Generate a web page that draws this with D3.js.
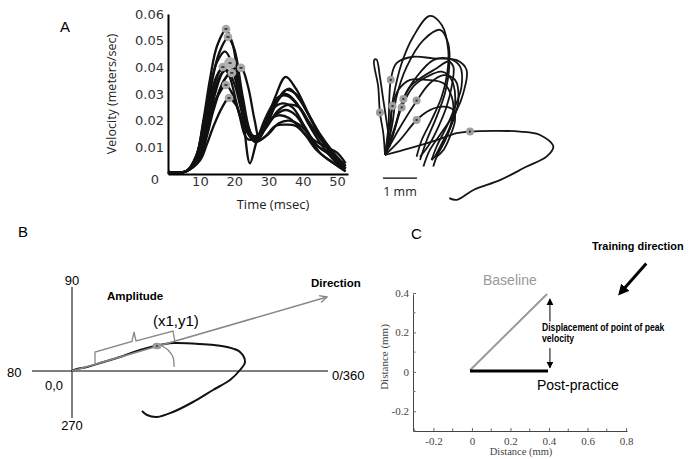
<!DOCTYPE html>
<html><head><meta charset="utf-8">
<script src="https://cdn.jsdelivr.net/npm/d3@7"></script>
<style>body{margin:0;background:#fff}svg{display:block}</style>
</head><body><svg id="c" width="691" height="459"></svg>
<script>
// ---------- Panel A: velocity profiles ----------
const timeTicks = [10, 20, 30, 40, 50];
const velTicks = [0, 0.01, 0.02, 0.03, 0.04, 0.05, 0.06];
const vel1 = [[0.7,0.0008],[6,0.001],[9,0.007],[11,0.02],[13,0.036],[15,0.048],[17.6,0.054],[19.5,0.049],[21.5,0.033],[24,0.016],[26.5,0.013],[29,0.019],[32,0.027],[35,0.030],[38,0.027],[42,0.018],[46,0.01],[50,0.004],[52.5,0.002]];
const vel2 = [[0.7,0.0008],[6,0.001],[9,0.006],[11,0.017],[13,0.031],[15.5,0.045],[18.2,0.051],[20,0.047],[22.5,0.029],[25,0.015],[27,0.013],[30,0.02],[33,0.028],[36,0.032],[39,0.028],[43,0.019],[47,0.01],[51,0.004],[52.5,0.002]];
const vel3 = [[0.7,0.0008],[6,0.001],[9,0.007],[11,0.018],[13,0.029],[15,0.037],[16.7,0.040],[18.5,0.037],[21,0.025],[24,0.013],[27,0.014],[30,0.02],[33,0.022],[36,0.021],[40,0.016],[44,0.009],[48,0.005],[52.5,0.001]];
const vel4 = [[0.7,0.0008],[6,0.001],[9.5,0.006],[12,0.017],[14,0.028],[16.5,0.038],[18.8,0.0416],[20.5,0.037],[22.5,0.022],[24.6,0.004],[26.5,0.012],[29.5,0.022],[33,0.029],[36,0.029],[39.5,0.024],[43,0.017],[47,0.01],[50,0.006],[52.5,0.003]];
const vel5 = [[0.7,0.0008],[6,0.001],[10,0.006],[12,0.014],[14,0.024],[17,0.035],[19.3,0.038],[21.5,0.032],[24,0.018],[26.5,0.012],[29,0.018],[32,0.029],[35,0.0364],[38,0.032],[41.5,0.023],[45,0.014],[49,0.006],[52.5,0.002]];
const vel6 = [[0.7,0.0008],[6,0.001],[10,0.006],[12,0.015],[14,0.025],[17,0.035],[19.5,0.039],[22,0.0398],[24,0.033],[26,0.02],[27.5,0.013],[30,0.015],[33,0.019],[36,0.02],[39.5,0.018],[43,0.013],[47,0.01],[50,0.008],[52.5,0.004]];
const vel7 = [[0.7,0.0008],[6,0.001],[10,0.008],[12,0.017],[14,0.026],[16,0.031],[17.6,0.0334],[19.5,0.03],[22.5,0.019],[25.5,0.013],[28.5,0.016],[32,0.022],[35,0.024],[38,0.022],[41.5,0.015],[45,0.008],[49,0.004],[52.5,0.001]];
const vel8 = [[0.7,0.0008],[6,0.001],[10,0.005],[12,0.011],[14,0.018],[16.5,0.025],[18.5,0.0285],[20.5,0.026],[23.5,0.017],[26.5,0.014],[29.5,0.018],[33,0.024],[36,0.026],[39,0.025],[42,0.019],[46,0.012],[50,0.006],[52.5,0.003]];
const vel9 = [[0.7,0.0008],[6,0.001],[9,0.007],[11,0.019],[13,0.033],[15,0.042],[17.3,0.046],[19.5,0.041],[22,0.025],[25,0.014],[28,0.016],[31,0.024],[34,0.0265],[37,0.025],[40.5,0.018],[44,0.011],[48,0.007],[52.5,0.002]];
const vel10 = [[0.7,0.0008],[6,0.001],[9.5,0.006],[11.5,0.016],[13.5,0.028],[16,0.037],[18,0.039],[20,0.034],[23,0.02],[26,0.012],[29,0.014],[32,0.018],[35,0.0185],[38,0.018],[42,0.013],[46,0.009],[49,0.007],[52.5,0.002]];
const vel11 = [[0.7,0.0008],[6,0.001],[9.5,0.007],[11.5,0.018],[13.5,0.03],[16,0.039],[18.5,0.041],[20.5,0.035],[23,0.021],[26,0.013],[29,0.017],[32,0.026],[35,0.0315],[38,0.03],[41,0.024],[45,0.015],[49,0.008],[52.5,0.003]];
const velSeries = [vel1, vel2, vel3, vel4, vel5, vel6, vel7, vel8, vel9, vel10, vel11];
const velPeaks = [[17.6,0.0544],[18.2,0.0514],[16.7,0.0401],[19.3,0.0379],[22.0,0.0398],[17.6,0.0334],[18.5,0.0285]];
const velPeakBig = [[18.8,0.0416]];

// ---------- Panel A: trajectories (mm) ----------
const traj1 = [[0,0],[0.13,0.83],[0.25,1.72],[0.49,2.70],[0.83,3.48],[1.32,4.09],[1.67,3.82],[1.86,3.09],[1.83,2.40],[1.67,1.72],[1.37,1.03],[1.08,0.44],[0.93,-0.05]];
const traj2 = [[0,0],[0.20,0.83],[0.34,1.72],[0.64,2.60],[1.13,3.38],[1.62,3.68],[1.86,3.28],[1.89,2.60],[1.76,1.81],[1.52,1.13],[1.23,0.44],[1.03,-0.15]];
const traj3 = [[0,0],[0.10,0.83],[0.17,2.21],[0.34,2.70],[0.83,2.89],[1.42,2.84],[2.11,2.79],[2.40,2.50],[2.30,1.81],[2.11,1.32],[1.72,0.74],[1.32,0.15],[1.13,-0.34]];
const traj4 = [[0,0],[0.25,0.64],[0.54,1.65],[0.93,2.30],[1.42,2.79],[1.86,2.84],[2.21,2.60],[2.25,2.01],[2.06,1.42],[1.81,0.83],[1.52,0.25],[1.37,-0.15]];
const traj5 = [[0,0],[0.34,0.64],[0.93,1.59],[1.32,2.11],[1.72,2.35],[2.06,2.21],[2.16,1.62],[2.01,1.03],[1.76,0.44],[1.52,-0.05],[1.42,-0.34]];
const traj6 = [[0,0],[0.25,0.64],[0.49,1.40],[0.83,2.01],[1.23,2.30],[1.67,2.45],[1.96,2.21],[2.06,1.42],[1.91,0.83],[1.67,0.34],[1.47,-0.05]];
const traj7 = [[0,0],[0.15,0.64],[0.22,1.44],[0.39,1.91],[0.74,2.21],[1.23,2.21],[1.72,2.11],[1.96,1.72],[2.01,1.23],[1.86,0.64],[1.62,0.15],[1.37,-0.15]];
const traj8 = [[0,0],[0.44,0.44],[0.93,1.03],[1.32,1.32],[1.72,1.42],[2.01,1.32],[2.06,1.03],[1.91,0.54],[1.72,0.15],[1.52,-0.05]];
const traj9 = [[0,0],[-0.05,0.64],[-0.15,1.25],[-0.20,2.01],[-0.32,2.79],[-0.25,2.81],[-0.15,2.30],[-0.05,1.62],[0.07,0.83],[0.15,0.25]];
const traj10 = [[0,0],[0.29,0.83],[0.54,1.65],[0.74,2.01],[1.03,2.25],[1.52,2.55],[1.86,2.75],[2.01,2.60],[1.96,2.01],[1.81,1.42],[1.57,0.83],[1.32,0.34],[1.03,-0.05]];
const traj11 = [[0,0],[0.74,0.20],[1.52,0.44],[2.11,0.64],[2.50,0.69],[3.19,0.71],[3.97,0.69],[4.56,0.59],[4.95,0.25],[4.75,-0.05],[4.17,-0.34],[3.38,-0.74],[2.60,-1.03],[2.11,-1.32],[1.89,-1.27]];
const trajSeries = [traj1, traj2, traj3, traj4, traj5, traj6, traj7, traj8, traj9, traj10, traj11];
const trajPeaks = [[0.17,2.21],[-0.15,1.25],[0.22,1.44],[0.49,1.40],[0.54,1.65],[0.93,1.60],[0.93,1.03],[2.50,0.69]];
const scaleBarMm = 1;

// ---------- Panel B: definition sketch ----------
const bTrajectory = [[0,0],[0.5,0.2],[1.5,0.4],[2.8,0.8],[4.8,1.4],[6.8,2.1],[8.5,2.55],[10.1,2.8],[12.8,2.7],[15.5,2.4],[16.8,1.9],[17.3,0.9],[16.8,0.1],[15.8,-0.9],[14.1,-1.9],[12.1,-3.1],[10.1,-4.1],[8.5,-4.6],[7.5,-4.4],[7.0,-4.0]];
const bDirection = [[0,0],[25.5,7.4]];
const bPeak = [8.5,2.5];
const bBracket = [[2.3,0.7],[2.3,1.9],[6.0,2.95],[6.2,3.9],[6.4,3.0],[10.1,4.0],[10.3,2.9]];
const bAngleArc = [[9.0,2.5],[9.6,2.1],[10.1,1.4],[10.2,0.4]];
const bAxisLabels = ["90", "80", "270", "0/360", "0,0"];

// ---------- Panel C: displacement ----------
const cTicks = [-0.2, 0, 0.2, 0.4, 0.6, 0.8];
const cMinorX = [-0.3, -0.1, 0.1, 0.3, 0.5, 0.7];
const cYTicks = [-0.2, 0, 0.2, 0.4];
const cMinorY = [-0.3, -0.1, 0.1, 0.3];
const baseline = [[-0.01,0.008],[0.39,0.395]];
const postPractice = [[-0.01,0.005],[0.395,0.005]];
const displacementX = 0.405;
const trainingArrow = [[0.905,0.55],[0.77,0.40]];

const svg = d3.select("#c");
svg.append("rect").attr("width",691).attr("height",459).attr("fill","#fff");
const defs = svg.append("defs");
defs.append("marker").attr("id","chev").attr("viewBox","0 0 10 10").attr("refX",9).attr("refY",5)
  .attr("markerWidth",9).attr("markerHeight",9).attr("markerUnits","userSpaceOnUse").attr("orient","auto")
  .append("path").attr("d","M1,1 L9,5 L1,9").attr("fill","none").attr("stroke","#888").attr("stroke-width",1.5);
defs.append("marker").attr("id","tri").attr("viewBox","0 0 10 10").attr("refX",9).attr("refY",5)
  .attr("markerWidth",7).attr("markerHeight",7).attr("markerUnits","userSpaceOnUse").attr("orient","auto")
  .append("path").attr("d","M0,0 L10,5 L0,10 Z").attr("fill","#000");
defs.append("marker").attr("id","big").attr("viewBox","0 0 10 10").attr("refX",7).attr("refY",5)
  .attr("markerWidth",11).attr("markerHeight",11).attr("markerUnits","userSpaceOnUse").attr("orient","auto")
  .append("path").attr("d","M0,0 L10,5 L0,10 Z").attr("fill","#000");

const txt = (x,y,s,o={}) => {
  const t = svg.append("text").attr("x",x).attr("y",y).text(s)
    .attr("font-family", o.ff || "Liberation Sans, Arial, sans-serif")
    .attr("font-size", o.fs || 13).attr("fill", o.fill || "#000")
    .attr("text-anchor", o.anchor || "start");
  if (o.fw) t.attr("font-weight", o.fw);
  return t;
};
// horizontally squeezed text (narrow bold captions)
const squeezed = (x,y,s,fs,sx) => svg.append("text")
  .attr("transform",`translate(${x},${y}) scale(${sx},1)`).text(s)
  .attr("font-family","Liberation Sans, Arial, sans-serif").attr("font-size",fs)
  .attr("font-weight","bold").attr("fill","#000");

// ===== Panel A velocity =====
const xA = d3.scaleLinear().domain([0.7,53.2]).range([168,348]);
const yA = d3.scaleLinear().domain([0,0.06]).range([174,14]);
const gxA = svg.append("g").attr("transform","translate(0,174)")
  .call(d3.axisBottom(xA).tickValues(timeTicks).tickSize(0).tickPadding(3).tickFormat(d3.format("d")));
const gyA = svg.append("g").attr("transform","translate(168,0)")
  .call(d3.axisLeft(yA).tickValues(velTicks).tickSize(0).tickPadding(4).tickFormat(d => d===0 ? "0" : d3.format(".2f")(d)));
[gxA, gyA].forEach(g => {
  g.select(".domain").attr("stroke","#000").attr("stroke-width",2);
  g.selectAll("text").attr("font-family","DejaVu Sans, sans-serif").attr("font-size",13).attr("fill","#333");
});
gyA.selectAll(".tick").filter(d => d === 0).select("text").attr("x",-9).attr("dy","0.75em");
txt(273,209,"Time (msec)",{ff:"Open Sans, sans-serif",fs:13,fill:"#222",anchor:"middle"});
svg.append("text").attr("transform","translate(116,94) rotate(-90)").attr("text-anchor","middle")
  .attr("font-family","Open Sans, sans-serif").attr("font-size",12.5).attr("fill","#222").text("Velocity (meters/sec)");
txt(60,32,"A",{fs:15});

const lineA = d3.line().x(d => xA(d[0])).y(d => yA(d[1])).curve(d3.curveCatmullRom.alpha(0.5));
svg.append("g").selectAll("path").data(velSeries).join("path")
  .attr("d", lineA).attr("fill","none").attr("stroke","#111").attr("stroke-width",2.3).attr("stroke-linejoin","round");
const pk = svg.append("g");
pk.selectAll("circle.p").data(velPeaks).join("circle").attr("class","p")
  .attr("cx",d => xA(d[0])).attr("cy",d => yA(d[1])).attr("r",4.3).attr("fill","#a8a8a8");
pk.selectAll("circle.b").data(velPeakBig).join("circle").attr("class","b")
  .attr("cx",d => xA(d[0])).attr("cy",d => yA(d[1])).attr("r",6).attr("fill","#b4b4b4");
pk.selectAll("line").data(velPeaks.concat(velPeakBig)).join("line")
  .attr("x1",d => xA(d[0])-1.5).attr("x2",d => xA(d[0])+1.5).attr("y1",d => yA(d[1])).attr("y2",d => yA(d[1]))
  .attr("stroke","#222").attr("stroke-width",1.5);

// ===== Panel A trajectories =====
const xT = d3.scaleLinear().domain([0,1]).range([385,419]);
const yT = d3.scaleLinear().domain([0,1]).range([155,121]);
const lineT = d3.line().x(d => xT(d[0])).y(d => yT(d[1])).curve(d3.curveCatmullRom.alpha(0.5));
svg.append("g").selectAll("path").data(trajSeries).join("path")
  .attr("d", lineT).attr("fill","none").attr("stroke","#151515").attr("stroke-width",1.8).attr("stroke-linejoin","round");
const tp = svg.append("g");
tp.selectAll("circle").data(trajPeaks).join("circle")
  .attr("cx",d => xT(d[0])).attr("cy",d => yT(d[1])).attr("r",4).attr("fill","#a0a0a0");
tp.selectAll("rect").data(trajPeaks).join("rect")
  .attr("x",d => xT(d[0])-1).attr("y",d => yT(d[1])-1).attr("width",2).attr("height",2).attr("fill","#333");
svg.append("line").attr("x1",xT(-0.06)).attr("x2",xT(-0.06+scaleBarMm)).attr("y1",yT(-0.68)).attr("y2",yT(-0.68))
  .attr("stroke","#000").attr("stroke-width",1.3);
txt(xT(0.44),196,"1 mm",{ff:"Open Sans, sans-serif",fs:12.5,fill:"#222",anchor:"middle"});

// ===== Panel B =====
const xB = d3.scaleLinear().domain([-4,25.6]).range([32,328]);
const yB = d3.scaleLinear().domain([-4.7,8.4]).range([418,287]);
svg.append("line").attr("x1",xB(-4)).attr("x2",xB(25.6)).attr("y1",yB(0)).attr("y2",yB(0)).attr("stroke","#000").attr("stroke-width",1);
svg.append("line").attr("x1",xB(0)).attr("x2",xB(0)).attr("y1",yB(8.4)).attr("y2",yB(-4.7)).attr("stroke","#000").attr("stroke-width",1);
const lineB = d3.line().x(d => xB(d[0])).y(d => yB(d[1])).curve(d3.curveCatmullRom.alpha(0.5));
svg.append("path").datum(bTrajectory).attr("d",lineB).attr("fill","none").attr("stroke","#111").attr("stroke-width",2);
svg.append("path").datum(bDirection).attr("d",d3.line().x(d => xB(d[0])).y(d => yB(d[1])))
  .attr("fill","none").attr("stroke","#888").attr("stroke-width",1.5).attr("marker-end","url(#chev)");
svg.append("path").datum(bBracket).attr("d",d3.line().x(d => xB(d[0])).y(d => yB(d[1])))
  .attr("fill","none").attr("stroke","#888").attr("stroke-width",1.3);
svg.append("path").datum(bAngleArc).attr("d",lineB).attr("fill","none").attr("stroke","#888").attr("stroke-width",1.3);
svg.append("ellipse").attr("cx",xB(bPeak[0])).attr("cy",yB(bPeak[1])).attr("rx",4.5).attr("ry",3.2).attr("fill","#999");
svg.append("circle").attr("cx",xB(bPeak[0])).attr("cy",yB(bPeak[1])).attr("r",0.9).attr("fill","#333");
txt(72,285,bAxisLabels[0],{fs:13,anchor:"middle"});
txt(7,377,bAxisLabels[1],{fs:13});
txt(72,430,bAxisLabels[2],{fs:13,anchor:"middle"});
txt(332,380,bAxisLabels[3],{fs:13});
txt(45,390,bAxisLabels[4],{fs:13});
txt(153,326,"(x1,y1)",{fs:15});
txt(107,300,"Amplitude",{fs:11.5,fw:"bold"});
txt(311,287,"Direction",{fs:11.5,fw:"bold"});
txt(18,237,"B",{fs:15});

// ===== Panel C =====
const xC = d3.scaleLinear().domain([-0.306,0.805]).range([413,627]);
const yC = d3.scaleLinear().domain([-0.3,0.395]).range([431,294]);
const fmtC = d => d === 0 ? "0" : d3.format(".1f")(d).replace("\u2212","-");
const gxC = svg.append("g").attr("transform","translate(0,431)")
  .call(d3.axisBottom(xC).tickValues(cTicks).tickSizeInner(-3).tickSizeOuter(0).tickPadding(6).tickFormat(fmtC));
const gyC = svg.append("g").attr("transform","translate(413,0)")
  .call(d3.axisLeft(yC).tickValues(cYTicks).tickSizeInner(-3).tickSizeOuter(0).tickPadding(4).tickFormat(fmtC));
gxC.append("g").selectAll("line").data(cMinorX).join("line").attr("x1",d => xC(d)).attr("x2",d => xC(d)).attr("y1",0).attr("y2",-2.5).attr("stroke","#666");
gyC.append("g").selectAll("line").data(cMinorY).join("line").attr("y1",d => yC(d)).attr("y2",d => yC(d)).attr("x1",0).attr("x2",2.5).attr("stroke","#666");
[gxC, gyC].forEach(g => {
  g.select(".domain").attr("stroke","#444").attr("stroke-width",1);
  g.selectAll(".tick line").attr("stroke","#666");
  g.selectAll("text").attr("font-family","Liberation Serif, Times New Roman, serif").attr("font-size",11).attr("fill","#444");
});
txt(521,455,"Distance (mm)",{ff:"Liberation Serif, serif",fs:10.5,fill:"#444",anchor:"middle"});
svg.append("text").attr("transform","translate(388,357) rotate(-90)").attr("text-anchor","middle")
  .attr("font-family","Liberation Serif, serif").attr("font-size",11).attr("fill","#444").text("Distance (mm)");
const lineC = d3.line().x(d => xC(d[0])).y(d => yC(d[1]));
svg.append("path").datum(baseline).attr("d",lineC).attr("stroke","#999").attr("stroke-width",2).attr("fill","none");
svg.append("path").datum(postPractice).attr("d",lineC).attr("stroke","#000").attr("stroke-width",3).attr("fill","none");
svg.append("line").attr("x1",xC(displacementX)).attr("x2",xC(displacementX)).attr("y1",yC(0.255)).attr("y2",yC(0.37))
  .attr("stroke","#000").attr("stroke-width",1).attr("marker-end","url(#tri)");
svg.append("line").attr("x1",xC(displacementX)).attr("x2",xC(displacementX)).attr("y1",yC(0.12)).attr("y2",yC(0.02))
  .attr("stroke","#000").attr("stroke-width",1).attr("marker-end","url(#tri)");
squeezed(542,331,"Displacement of point of peak",10.5,0.82);
squeezed(542,342,"velocity",10.5,0.82);
txt(483,285,"Baseline",{fs:14,fill:"#999"});
txt(537,390,"Post-practice",{fs:14});
squeezed(592,250,"Training direction",11.5,0.95);
svg.append("path").datum(trainingArrow).attr("d",lineC).attr("stroke","#000").attr("stroke-width",3).attr("fill","none").attr("marker-end","url(#big)");
txt(411,239,"C",{fs:15});
</script></body></html>
